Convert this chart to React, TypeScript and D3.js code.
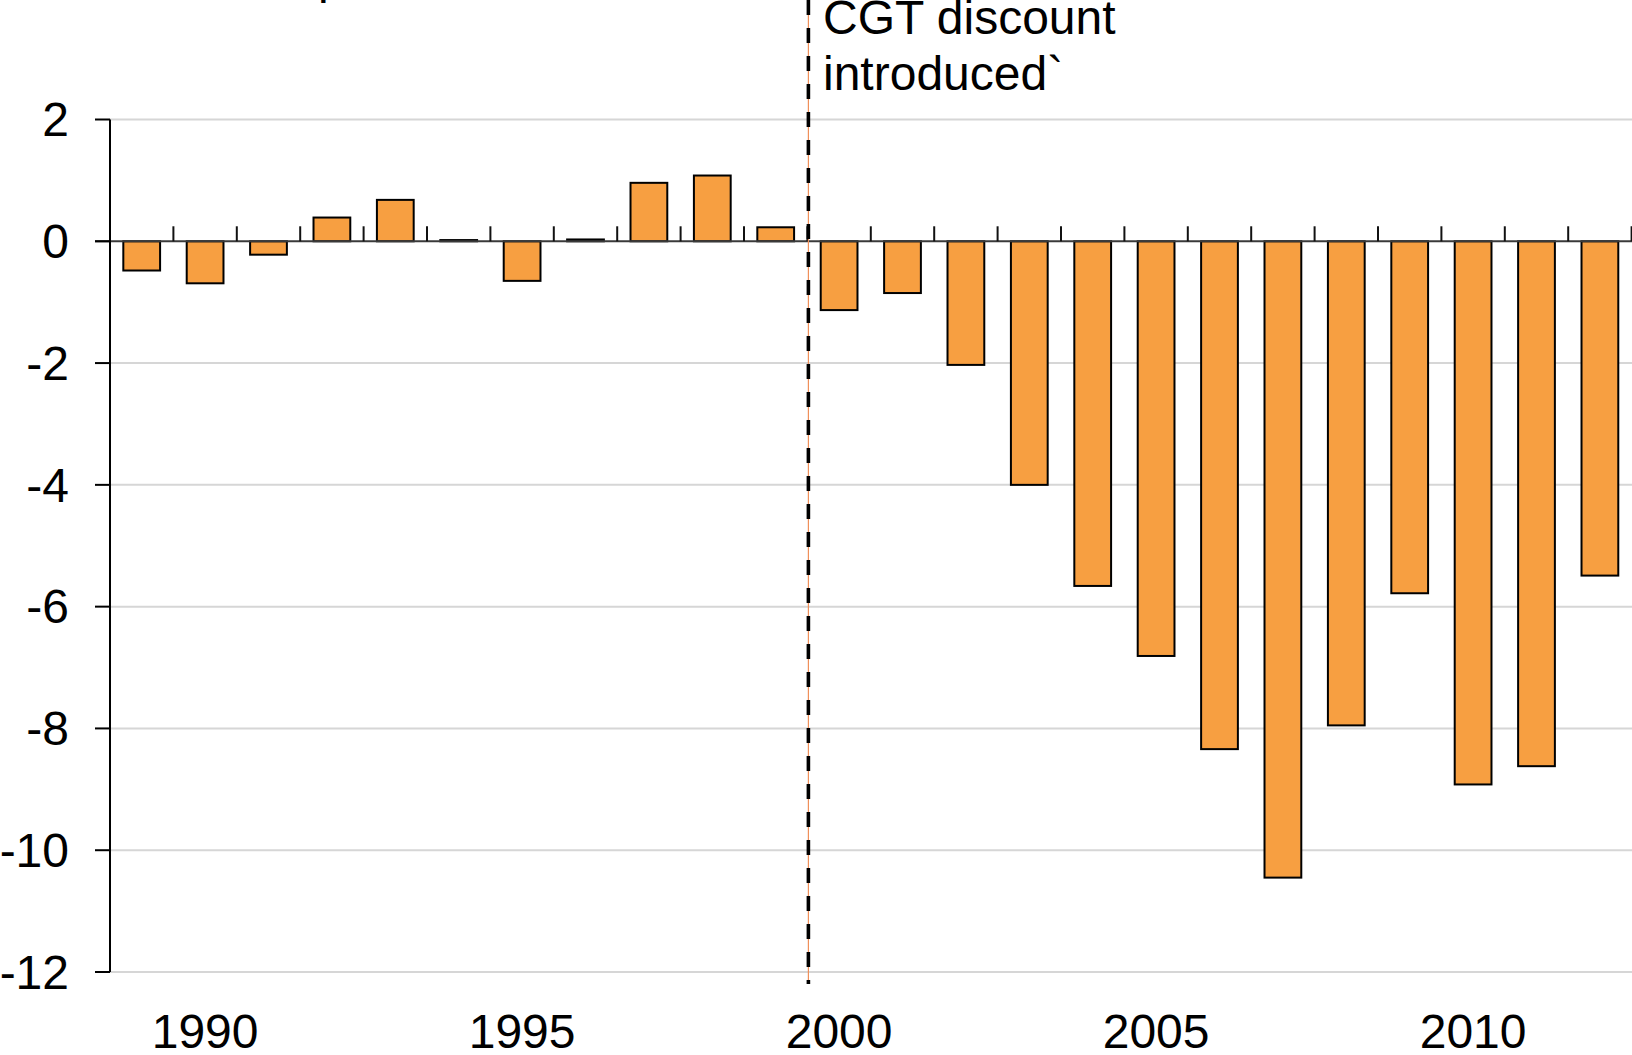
import { useEffect, useRef } from 'react';
import * as d3 from 'd3';

const years = [
    1989, 1990, 1991, 1992, 1993, 1994, 1995, 1996, 1997, 1998, 1999, 2000,
    2001, 2002, 2003, 2004, 2005, 2006, 2007, 2008, 2009, 2010, 2011, 2012,
];
const values = [
    -0.48, -0.69, -0.22, 0.39, 0.68, 0.02, -0.65, 0.03, 0.96, 1.08, 0.23, -1.13,
    -0.85, -2.03, -4.0, -5.66, -6.81, -8.34, -10.45, -7.95, -5.78, -8.92, -8.62, -5.49,
];
const yTicks = [2, 0, -2, -4, -6, -8, -10, -12];
const xLabels = [1990, 1995, 2000, 2005, 2010];
const markerYear = 2000;
const noteLines = ['CGT discount', 'introduced`'];

export default function App() {
    const svgRef = useRef<SVGSVGElement>(null);

    useEffect(() => {
        if (!svgRef.current) return;
        const svg = d3.select(svgRef.current);
        svg.selectAll('*').remove();

        const width = 1632;
        const left = 110;
        const step = 63.4;
        const right = left + years.length * step;
        const font = '"Liberation Sans", Arial, sans-serif';

        const x = d3.scaleBand<number>()
            .domain(years)
            .range([left, right])
            .paddingInner(0.42)
            .paddingOuter(0.21);

        const y = d3.scaleLinear()
            .domain([-12, 2])
            .range([972, 119.5]);

        const boundary = (i: number) => left + i * x.step();

        // gridlines
        svg.append('g')
            .selectAll('line')
            .data(yTicks.filter(d => d !== 0))
            .join('line')
            .attr('x1', left)
            .attr('x2', width)
            .attr('y1', d => y(d))
            .attr('y2', d => y(d))
            .attr('stroke', '#d6d6d6')
            .attr('stroke-width', 2);

        // bars
        svg.append('g')
            .selectAll('rect')
            .data(values)
            .join('rect')
            .attr('x', (d, i) => x(years[i])!)
            .attr('width', x.bandwidth())
            .attr('y', d => y(Math.max(0, d)))
            .attr('height', d => Math.abs(y(d) - y(0)))
            .attr('fill', '#f79f41')
            .attr('stroke', '#000')
            .attr('stroke-width', 2);

        // zero line + category ticks (upwards)
        svg.append('line')
            .attr('x1', left - 15)
            .attr('x2', width)
            .attr('y1', y(0))
            .attr('y2', y(0))
            .attr('stroke', '#3a3a3a')
            .attr('stroke-width', 2);

        svg.append('g')
            .selectAll('line')
            .data(d3.range(1, years.length + 1))
            .join('line')
            .attr('x1', i => boundary(i))
            .attr('x2', i => boundary(i))
            .attr('y1', y(0))
            .attr('y2', y(0) - 15)
            .attr('stroke', '#111')
            .attr('stroke-width', 2);

        // y axis
        svg.append('line')
            .attr('x1', left)
            .attr('x2', left)
            .attr('y1', y(2))
            .attr('y2', y(-12))
            .attr('stroke', '#000')
            .attr('stroke-width', 2);

        svg.append('g')
            .selectAll('line')
            .data(yTicks)
            .join('line')
            .attr('x1', left - 15)
            .attr('x2', left)
            .attr('y1', d => y(d))
            .attr('y2', d => y(d))
            .attr('stroke', '#000')
            .attr('stroke-width', 2);

        svg.append('g')
            .selectAll('text')
            .data(yTicks)
            .join('text')
            .attr('x', 69)
            .attr('y', d => y(d))
            .attr('dy', '0.35em')
            .attr('text-anchor', 'end')
            .attr('font-family', font)
            .attr('font-size', 48)
            .text(d => d);

        // x labels
        svg.append('g')
            .selectAll('text')
            .data(xLabels)
            .join('text')
            .attr('x', d => x(d)! + x.bandwidth() / 2)
            .attr('y', 1048)
            .attr('text-anchor', 'middle')
            .attr('font-family', font)
            .attr('font-size', 48)
            .text(d => d);

        // marker line at the CGT discount
        const mx = boundary(years.indexOf(markerYear)) + 1;
        svg.append('line')
            .attr('x1', mx)
            .attr('x2', mx)
            .attr('y1', 0)
            .attr('y2', 984)
            .attr('stroke', '#f0905a')
            .attr('stroke-width', 1.2);
        svg.append('line')
            .attr('x1', mx)
            .attr('x2', mx)
            .attr('y1', 0)
            .attr('y2', 984)
            .attr('stroke', '#000')
            .attr('stroke-width', 3.6)
            .attr('stroke-dasharray', '15 13');

        svg.append('text')
            .attr('font-family', font)
            .attr('font-size', 48)
            .selectAll('tspan')
            .data(noteLines)
            .join('tspan')
            .attr('x', 823)
            .attr('y', (d, i) => 34 + i * 56)
            .text(d => d);

        // clipped title above the chart (only a descender shows)
        svg.append('text')
            .attr('x', 318)
            .attr('y', -7)
            .attr('font-family', font)
            .attr('font-size', 48)
            .text('p');
    }, []);

    return (
        <svg
            ref={svgRef}
            width={1632}
            height={1055}
            style={{ position: 'absolute', left: 0, top: 0, background: '#fff' }}
        />
    );
}
